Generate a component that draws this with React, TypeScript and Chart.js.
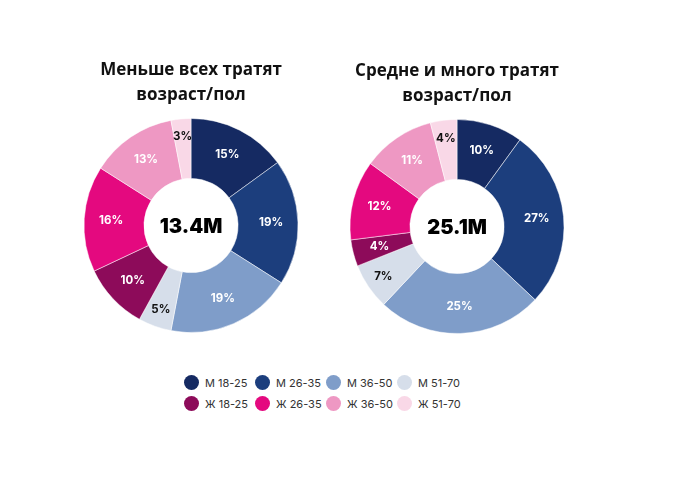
import React, { useEffect, useRef } from "react";
import { Chart, registerables } from "chart.js";

Chart.register(...registerables);

const categories = ["М 18-25", "М 26-35", "М 36-50", "М 51-70", "Ж 18-25", "Ж 26-35", "Ж 36-50", "Ж 51-70"];
const colors = ["#152a62", "#1c3e7d", "#7f9dc9", "#d6deea", "#8d0b5a", "#e4097f", "#ee98c3", "#f9d8e7"];
const labelColors = ["#fff", "#fff", "#fff", "#111", "#fff", "#fff", "#fff", "#111"];
const leastValues = [15, 19, 19, 5, 10, 16, 13, 3];
const mostValues = [10, 27, 25, 7, 4, 12, 11, 4];
const leastTitle = ["Меньше всех тратят", "возраст/пол"];
const mostTitle = ["Средне и много тратят", "возраст/пол"];
const leastTotal = "13.4M";
const mostTotal = "25.1M";

const labelPlugin = {
  id: "sliceLabels",
  afterDatasetsDraw(chart: any) {
    const { ctx } = chart;
    const meta = chart.getDatasetMeta(0);
    const values = chart.data.datasets[0].data as number[];
    ctx.save();
    ctx.textAlign = "center";
    ctx.textBaseline = "middle";
    meta.data.forEach((arc: any, i: number) => {
      const p = arc.getProps(["x", "y", "startAngle", "endAngle", "innerRadius", "outerRadius"], true);
      const mid = (p.startAngle + p.endAngle) / 2;
      const dark = labelColors[i] !== "#fff";
      const f = dark ? 0.7 : 0.55;
      const r = p.innerRadius + (p.outerRadius - p.innerRadius) * f;
      ctx.fillStyle = labelColors[i];
      ctx.font = "700 11.5px Inter, 'Open Sans', sans-serif";
      ctx.fillText(values[i] + "%", p.x + Math.cos(mid) * r, p.y + Math.sin(mid) * r);
    });
    const center = chart.options.plugins.centerText?.text;
    if (center && meta.data[0]) {
      ctx.fillStyle = "#000";
      ctx.font = "900 20px Inter, 'Open Sans', sans-serif";
      ctx.fillText(center, meta.data[0].x, meta.data[0].y + 1);
    }
    ctx.restore();
  },
};

function Donut({ values, title, total, left, top }: { values: number[]; title: string[]; total: string; left: number; top: number }) {
  const ref = useRef<HTMLCanvasElement>(null);
  useEffect(() => {
    const chart = new Chart(ref.current!, {
      type: "doughnut",
      data: {
        labels: categories,
        datasets: [
          {
            data: values,
            backgroundColor: colors,
            borderColor: "rgba(255,255,255,0.5)",
            borderWidth: 1,
          },
        ],
      },
      options: {
        animation: false,
        responsive: false,
        cutout: "44%",
        layout: { padding: 0 },
        plugins: {
          legend: { display: false },
          tooltip: { enabled: false },
          title: {
            display: true,
            text: title,
            color: "#111",
            font: { family: "'Open Sans', sans-serif", size: 17, weight: "bold", lineHeight: 1.47 },
            padding: { top: 0, bottom: 10 },
          },
          centerText: { text: total },
        } as any,
      },
      plugins: [labelPlugin],
    });
    return () => chart.destroy();
  }, []);
  return (
    <canvas
      ref={ref}
      width={240}
      height={275}
      style={{ position: "absolute", left, top, width: 240, height: 275 }}
    />
  );
}

export default function App() {
  return (
    <div style={{ position: "absolute", left: 0, top: 0, width: 696, height: 479, background: "#fff", overflow: "hidden" }}>
      <Donut values={leastValues} title={leastTitle} total={leastTotal} left={71} top={57.5} />
      <Donut values={mostValues} title={mostTitle} total={mostTotal} left={337} top={58.5} />
      <div
        style={{
          position: "absolute",
          left: 184,
          top: 372,
          display: "grid",
          gridTemplateColumns: "71px 71px 71px 71px",
          gridAutoRows: "21px",
          fontFamily: "Inter, 'Open Sans', sans-serif",
          fontSize: 11,
          color: "#333",
        }}
      >
        {categories.map((c, i) => (
          <div key={c} style={{ display: "flex", alignItems: "center", whiteSpace: "nowrap" }}>
            <span
              style={{
                display: "inline-block",
                width: 15,
                height: 15,
                borderRadius: "50%",
                background: colors[i],
                marginRight: 6,
                flex: "none",
              }}
            />
            <span>{c}</span>
          </div>
        ))}
      </div>
    </div>
  );
}
